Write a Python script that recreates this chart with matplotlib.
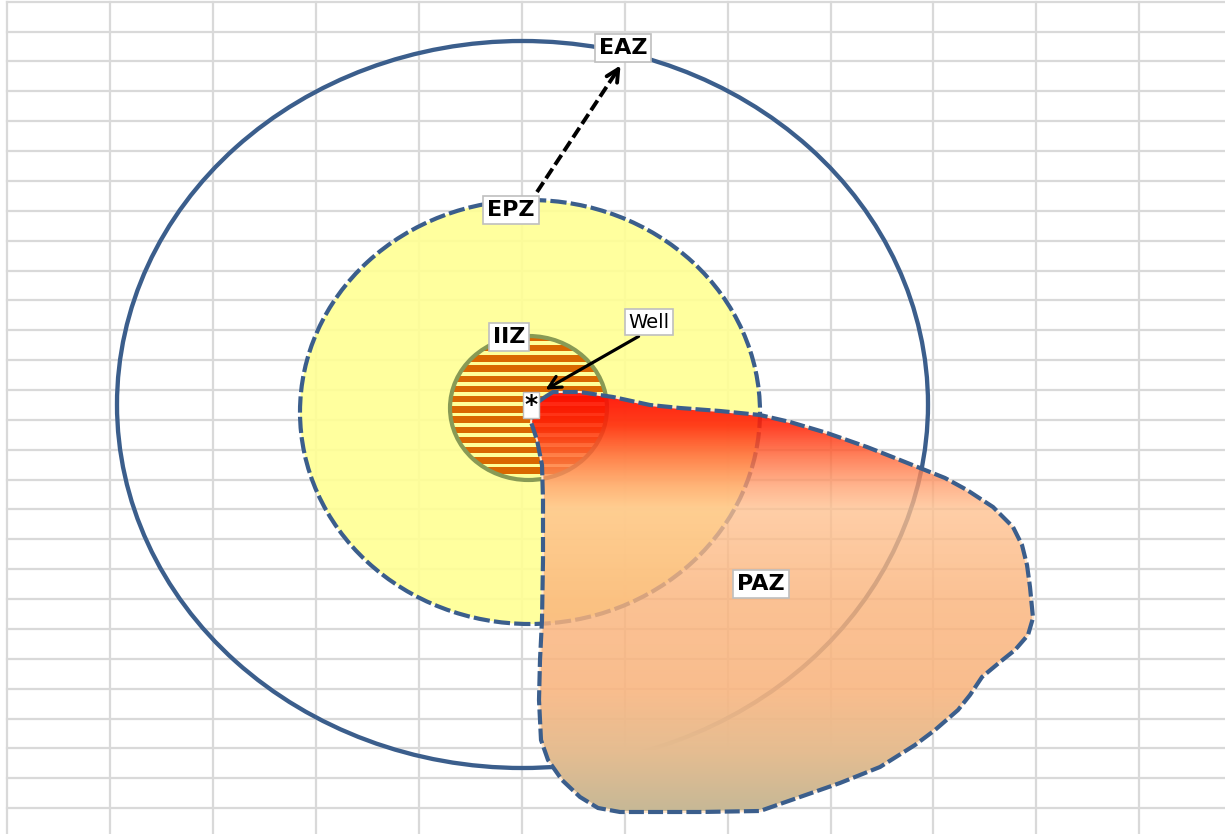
import numpy as np
import matplotlib.pyplot as plt
from matplotlib.patches import Ellipse, Polygon, Rectangle
from matplotlib.colors import to_rgb

# ---------------------------------------------------------------------------
# Geometry (pixel coordinates of the sketch, y grows downwards)
# ---------------------------------------------------------------------------
W, H = 1225, 834

grid_x = [7.3 + 102.9 * k for k in range(12)]
grid_y = [1.7 + 29.87 * k for k in range(28)]

# zones: centre x, centre y, width, height
eaz = (522.5, 404.5, 811, 727)
epz = (530, 412, 460, 424)
iiz = (528.5, 408, 157, 144)

# plume (PAZ) outline
paz_x = [545, 553, 580, 613, 650, 680, 720, 760, 790, 827, 867, 895, 920, 945,
         967, 993, 1013, 1022, 1027, 1030, 1033, 1028, 1015, 1000, 982, 970,
         958, 935, 915, 880, 840, 800, 760, 700, 620, 598, 580, 562, 548, 541,
         539, 540, 542, 543, 543, 542, 537, 531, 533, 538]
paz_y = [397, 392, 392, 397, 405, 408, 411, 415, 422, 433, 447, 458, 468, 478,
         490, 507, 527, 545, 565, 587, 618, 635, 650, 662, 677, 695, 710, 730,
         745, 767, 783, 797, 811, 812, 812, 808, 797, 780, 760, 740, 700, 660,
         620, 560, 500, 465, 440, 422, 410, 402]

# vertical colour ramp of the plume: y, colour, alpha
ramp_y = [390, 425, 455, 485, 508, 600, 690, 750, 812]
ramp_c = ["#ff0000", "#ff2408", "#ff6436", "#ff9e6c", "#ffc08e", "#fbb47c",
          "#f9b681", "#e6bd91", "#c6b896"]
ramp_a = [0.9, 0.88, 0.82, 0.78, 0.78, 0.82, 0.9, 1.0, 1.0]

labels = ["EAZ", "EPZ", "IIZ", "PAZ"]
label_xy = [(623, 48), (511, 210), (509, 337), (761, 584)]

BLUE = "#3b5e8c"

# ---------------------------------------------------------------------------
# Figure
# ---------------------------------------------------------------------------
fig = plt.figure(figsize=(W / 100, H / 100), dpi=100)
ax = fig.add_axes([0, 0, 1, 1])
ax.set_xlim(0, W)
ax.set_ylim(H, 0)
ax.axis("off")

# spreadsheet grid
for gx in grid_x:
    ax.plot([gx, gx], [grid_y[0], H], color="#d9d9d9", lw=1.6, zorder=1)
for gy in grid_y:
    ax.plot([grid_x[0], W], [gy, gy], color="#d9d9d9", lw=1.6, zorder=1)

# EAZ
ax.add_patch(Ellipse(eaz[:2], eaz[2], eaz[3], fill=False, ec=BLUE, lw=3.1, zorder=2))

# EPZ
ax.add_patch(Ellipse(epz[:2], epz[2], epz[3], fc=(1, 1, 0.58), alpha=0.9, ec="none", zorder=3))
ax.add_patch(Ellipse(epz[:2], epz[2], epz[3], fill=False, ec=BLUE, lw=3.0,
                     ls=(0, (3.9, 1.0)), zorder=3.1))

# IIZ with horizontal stripes
iiz_clip = Ellipse(iiz[:2], iiz[2], iiz[3], fc=(1, 1, 0.6), ec="none", zorder=4)
ax.add_patch(iiz_clip)
for k in range(16):
    yc = iiz[1] - iiz[3] / 2 + 2 + 10.2 * k
    r = Rectangle((iiz[0] - iiz[2] / 2, yc - 3.2), iiz[2], 6.4, fc="#d96800", ec="none", zorder=4.1)
    ax.add_patch(r)
    r.set_clip_path(iiz_clip)
ax.add_patch(Ellipse(iiz[:2], iiz[2], iiz[3], fill=False, ec="#889a55", lw=3.0, zorder=4.2))

# PAZ gradient clipped to the outline
pts = np.column_stack([paz_x, paz_y])
paz_patch = Polygon(pts, closed=True, fc="none", ec="none", zorder=5)
ax.add_patch(paz_patch)
yy = np.arange(min(ramp_y), max(ramp_y) + 1)
rgb = np.array([to_rgb(c) for c in ramp_c])
img = np.zeros((len(yy), 2, 4))
for i in range(3):
    img[:, :, i] = np.interp(yy, ramp_y, rgb[:, i])[:, None]
img[:, :, 3] = np.interp(yy, ramp_y, ramp_a)[:, None]
im = ax.imshow(img, extent=[min(paz_x) - 2, max(paz_x) + 2, max(ramp_y), min(ramp_y)],
               origin="upper", aspect="auto", interpolation="bilinear", zorder=5)
im.set_clip_path(paz_patch)
ax.set_xlim(0, W)
ax.set_ylim(H, 0)

ax.add_patch(Polygon(pts, closed=True, fill=False, ec="#ffe6cc", lw=1.5, zorder=5.5))
ax.add_patch(Polygon(pts, closed=True, fill=False, ec=BLUE, lw=3.0,
                     ls=(0, (3.6, 1.0)), zorder=6))

# arrows
ax.plot([537, 617], [192, 71], color="black", lw=2.8, ls=(0, (3, 1.2)), zorder=7)
ax.annotate("", xy=(622, 63), xytext=(614, 76),
            arrowprops=dict(arrowstyle="->", color="black", lw=2.8, mutation_scale=22), zorder=7)
ax.annotate("", xy=(543, 391), xytext=(641, 335),
            arrowprops=dict(arrowstyle="->", color="black", lw=2.3, mutation_scale=22), zorder=7)

box = dict(boxstyle="square,pad=0.18", fc="white", ec="#bfbfbf", lw=1.2)
for txt, (lx, ly) in zip(labels, label_xy):
    ax.text(lx, ly, txt, fontsize=16, fontweight="bold", ha="center", va="center",
            bbox=box, zorder=8)
ax.text(649, 322, "Well", fontsize=14, ha="center", va="center", bbox=box, zorder=8)
ax.text(531, 405, "*", fontsize=18, fontweight="bold", ha="center", va="center",
        bbox=dict(boxstyle="square,pad=0.05", fc="white", ec="#bfbfbf", lw=1.0), zorder=8)

fig.savefig("out.png", dpi=100)
